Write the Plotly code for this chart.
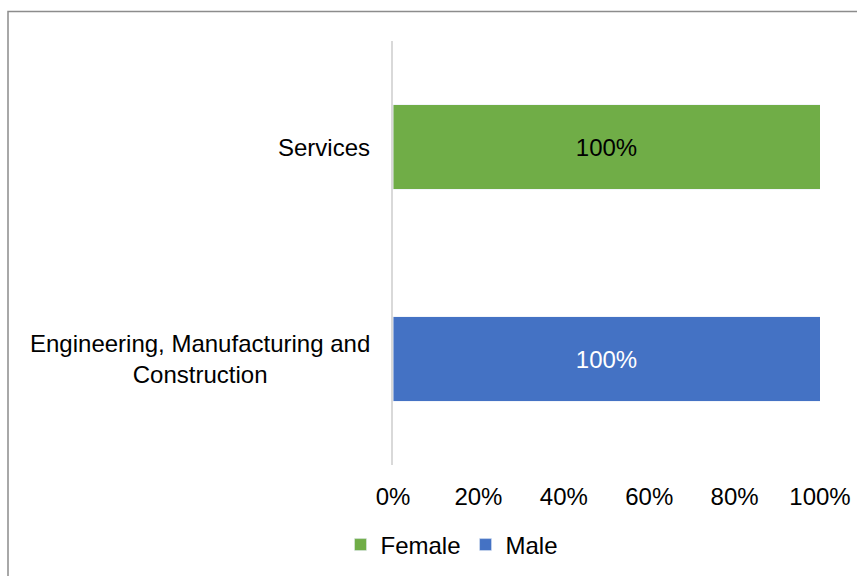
import plotly.graph_objects as go

# Field of study categories (bottom to top) and share of each gender
categories = ["Engineering, Manufacturing and<br>Construction", "Services"]
female_share = [0.0, 1.0]
male_share = [1.0, 0.0]
tick_values = [0, 0.2, 0.4, 0.6, 0.8, 1.0]
tick_labels = ["0%", "20%", "40%", "60%", "80%", "100%"]

FONT = "Liberation Sans, Arial, sans-serif"
FS = 24
L, R, T, B = 393, 37, 41, 111
W, H = 857, 576
PW, PH = W - L - R, H - T - B


def pct_labels(values):
    return [f"{v:.0%}" if v > 0 else "" for v in values]


fig = go.Figure()
fig.add_trace(go.Bar(
    name="Female", y=categories, x=female_share, orientation="h",
    marker=dict(color="#70AD47"), width=0.4,
    text=pct_labels(female_share), textposition="inside",
    insidetextanchor="middle",
    textfont=dict(color="#000000", size=FS, family=FONT),
))
fig.add_trace(go.Bar(
    name="Male", y=categories, x=male_share, orientation="h",
    marker=dict(color="#4472C4"), width=0.4,
    text=pct_labels(male_share), textposition="inside",
    insidetextanchor="middle",
    textfont=dict(color="#FFFFFF", size=FS, family=FONT),
))

fig.update_layout(
    barmode="stack",
    width=W, height=H,
    margin=dict(l=L, r=R, t=T, b=B, autoexpand=False),
    paper_bgcolor="white", plot_bgcolor="white",
    font=dict(family=FONT, size=FS, color="#000000"),
    showlegend=True,
    legend=dict(orientation="h", x=(452 - L) / PW, xanchor="center",
                y=-(545 - (T + PH)) / PH, yanchor="middle",
                font=dict(size=FS), itemwidth=30, traceorder="normal"),
    uniformtext=dict(mode=None),
)
fig.update_xaxes(
    range=[0, 1.0], tickvals=tick_values, ticktext=tick_labels,
    showgrid=False, zeroline=False, showline=False, automargin=False,
    ticks="outside", ticklen=10, tickcolor="rgba(0,0,0,0)",
    tickfont=dict(size=FS),
)
fig.update_yaxes(
    type="category", categoryorder="array", categoryarray=categories,
    showgrid=False, zeroline=False, showticklabels=False, automargin=False,
    showline=True, linecolor="#D9D9D9", linewidth=2,
)

# Category labels, centred line by line, right-aligned to the axis
for cat in categories:
    fig.add_annotation(
        x=(372 - L) / PW, xref="paper", xanchor="right",
        y=cat, yref="y", yanchor="middle",
        text=cat, showarrow=False, align="center",
        font=dict(size=FS, family=FONT, color="#000000"),
    )

# Outer chart frame
fig.add_shape(type="rect", xref="paper", yref="paper",
              x0=(8 - L) / PW, x1=(870 - L) / PW,
              y0=-(590 - T - PH) / PH, y1=1 + (T - 11.5) / PH,
              line=dict(color="#8C8C8C", width=1.5), fillcolor="rgba(0,0,0,0)",
              layer="below")

fig.write_html("out.html")
